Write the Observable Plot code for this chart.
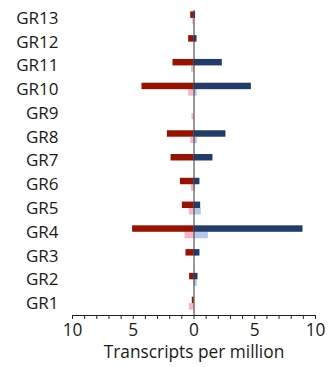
<!DOCTYPE html>
<html>
<head>
<meta charset="utf-8">
<script src="https://cdn.jsdelivr.net/npm/d3@7"></script>
<script src="https://cdn.jsdelivr.net/npm/@observablehq/plot@0.6"></script>
<style>
  html, body { margin: 0; padding: 0; background: #fff; }
  body { font-family: "Open Sans", sans-serif; }
</style>
</head>
<body>
<div id="chart"></div>
<script>
const categories = ["GR1","GR2","GR3","GR4","GR5","GR6","GR7","GR8","GR9","GR10","GR11","GR12","GR13"];
// dark bars (upper in each row)
const darkLeft  = [0.14, 0.36, 0.66, 5.05, 0.96, 1.12, 1.89, 2.19, 0, 4.28, 1.73, 0.44, 0.27];
const darkRight = [0,    0.33, 0.49, 8.97, 0.55, 0.49, 1.56, 2.63, 0, 4.72, 2.33, 0.25, 0.13];
// light bars (lower in each row)
const lightLeft  = [0.38, 0,    0, 0.74, 0.38, 0.22, 0, 0.27, 0.17, 0.44, 0.2, 0, 0.1];
const lightRight = [0,    0.27, 0, 1.18, 0.6,  0.11, 0, 0.27, 0,    0.27, 0,   0, 0];
const xTicks = d3.range(-10, 11);

const rows = categories.map((c, i) => ({
  cat: c, dl: -darkLeft[i], dr: darkRight[i], ll: -lightLeft[i], lr: lightRight[i]
}));

const half = 11.9, barH = 6.5;
const darkInset = {insetTop: half - barH, insetBottom: half};
const lightInset = {insetTop: half, insetBottom: half - barH};

const chart = Plot.plot({
  width: 329,
  height: 367,
  marginLeft: 72,
  marginRight: 14,
  marginTop: 6,
  marginBottom: 52,
  style: {fontFamily: "Open Sans, sans-serif", fontSize: "17px", color: "#1a1a1a", background: "#fff"},
  x: {domain: [-10, 10]},
  y: {domain: categories.slice().reverse(), padding: 0, round: false},
  marks: [
    Plot.barX(rows, {y: "cat", x1: 0, x2: "ll", fill: "#f7b5c6", ...lightInset}),
    Plot.barX(rows, {y: "cat", x1: 0, x2: "lr", fill: "#b5c8ea", ...lightInset}),
    Plot.barX(rows, {y: "cat", x1: 0, x2: "dl", fill: "#981200", ...darkInset}),
    Plot.barX(rows, {y: "cat", x1: 0, x2: "dr", fill: "#213b6b", ...darkInset}),
    Plot.ruleX([0], {stroke: "#333", strokeWidth: 1, insetTop: 4}),
    Plot.frame({anchor: "bottom", stroke: "#222"}),
    Plot.axisX({ticks: xTicks, tickFormat: d => d % 5 === 0 ? Math.abs(d) : "", tickSize: 4, tickPadding: 4, fontSize: 17.3, label: null, stroke: "#222"}),
    Plot.axisY({tickSize: 0, tickPadding: 14, fontSize: 17, label: null}),
    Plot.text(["Transcripts per million"], {frameAnchor: "bottom", dy: 42, fontSize: 17.3})
  ]
});
document.getElementById("chart").appendChild(chart);
</script>
</body>
</html>
